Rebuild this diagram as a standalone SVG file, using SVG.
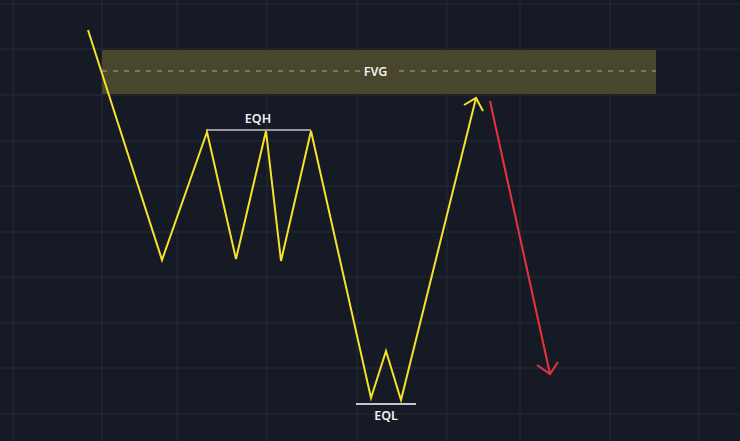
<svg xmlns="http://www.w3.org/2000/svg" width="740" height="441" viewBox="0 0 740 441">
<style>
.grid line{stroke:#272b36;stroke-width:1}
.lbl{font-family:"Noto Sans","Liberation Sans",sans-serif;font-size:12.5px;font-weight:600;fill:#f0f0f0;text-anchor:middle}
.yl{fill:none;stroke:#f7e22a;stroke-width:2;stroke-linejoin:miter;stroke-linecap:butt}
.rl{fill:none;stroke:#e8333f;stroke-width:2}
</style>
<rect width="740" height="441" fill="#161a25"/>
<g class="grid">
<line x1="13" y1="0" x2="13" y2="441"/><line x1="102" y1="0" x2="102" y2="441"/><line x1="177" y1="0" x2="177" y2="441"/><line x1="267" y1="0" x2="267" y2="441"/><line x1="357" y1="0" x2="357" y2="441"/><line x1="447" y1="0" x2="447" y2="441"/><line x1="520" y1="0" x2="520" y2="441"/><line x1="610" y1="0" x2="610" y2="441"/><line x1="699" y1="0" x2="699" y2="441"/>
<line x1="0" y1="4" x2="740" y2="4"/><line x1="0" y1="49" x2="740" y2="49"/><line x1="0" y1="95" x2="740" y2="95"/><line x1="0" y1="141" x2="740" y2="141"/><line x1="0" y1="186" x2="740" y2="186"/><line x1="0" y1="232" x2="740" y2="232"/><line x1="0" y1="277" x2="740" y2="277"/><line x1="0" y1="323" x2="740" y2="323"/><line x1="0" y1="368" x2="740" y2="368"/><line x1="0" y1="414" x2="740" y2="414"/>
</g>
<g id="fvg">
<rect x="102" y="50" width="554" height="44" fill="#48472c"/>
<line x1="102" y1="71" x2="360" y2="71" stroke="#a9a896" stroke-width="1" stroke-dasharray="5,6"/>
<line x1="399" y1="71" x2="656" y2="71" stroke="#a9a896" stroke-width="1" stroke-dasharray="5,6"/>
<text class="lbl" x="375.5" y="76">FVG</text>
</g>
<g id="eqh">
<line x1="206" y1="130" x2="311" y2="130" stroke="#c4c4c8" stroke-width="1.5"/>
<text class="lbl" x="258" y="123">EQH</text>
</g>
<g id="eql">
<line x1="356" y1="404" x2="416" y2="404" stroke="#ffffff" stroke-width="1.5"/>
<text class="lbl" x="386" y="420">EQL</text>
</g>
<g id="connectors">
<polyline class="yl" points="88,30 162,260 207,132 236,259 266,131 281,261 311,131 371,398 386,351 401,400 476,98"/>
<polyline class="yl" points="464,105 476,98 483,111"/>
<line class="rl" x1="490" y1="101" x2="550" y2="374"/>
<polyline class="rl" points="537,365 550,374 558,362"/>
</g>
</svg>
